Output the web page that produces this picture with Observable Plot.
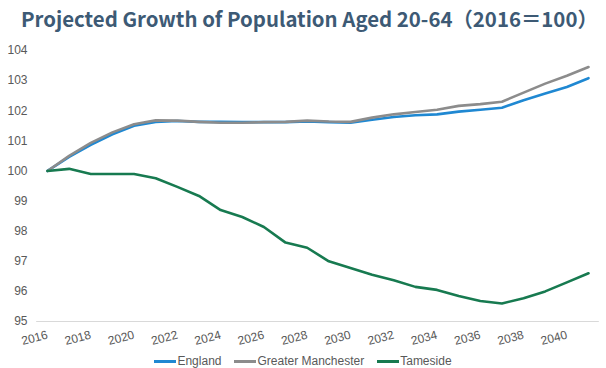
<!DOCTYPE html>
<html>
<head>
<meta charset="utf-8">
<script src="https://cdn.jsdelivr.net/npm/d3@7"></script>
<script src="https://cdn.jsdelivr.net/npm/@observablehq/plot@0.6"></script>
<style>
  html, body { margin: 0; padding: 0; background: #fff; }
  #wrap { width: 606px; height: 368px; overflow: hidden; position: relative; }
  #title { font-family: "Noto Sans CJK JP", "Noto Sans", sans-serif; font-weight: 700; font-size: 20.4px;
           color: #3d5a75; height: 36px; line-height: 36px; padding-left: 21px; white-space: nowrap; }
  #legend { font-family: "Liberation Sans", Arial, sans-serif; font-size: 12px; color: #595959;
            display: flex; justify-content: center; gap: 13px; height: 13px; line-height: 13px;
            margin-top: 1px; }
  .item { display: flex; align-items: center; }
  .sw { display: inline-block; width: 22px; height: 3px; margin-right: 1px; }
</style>
</head>
<body>
<div id="wrap">
  <div id="title">Projected Growth of Population Aged 20-64（2016＝100）</div>
  <div id="chart"></div>
  <div id="legend"></div>
</div>
<script>
const years = d3.range(2016, 2042);
const seriesNames = ["England", "Greater Manchester", "Tameside"];
const seriesColors = ["#1f88d2", "#8c8c8c", "#177a50"];
const england = [100, 100.47, 100.87, 101.22, 101.5, 101.63, 101.66, 101.63, 101.63, 101.62, 101.62, 101.62, 101.64, 101.62, 101.6, 101.7, 101.79, 101.85, 101.88, 101.97, 102.03, 102.1, 102.35, 102.57, 102.79, 103.08];
const greaterManchester = [100, 100.5, 100.93, 101.28, 101.55, 101.68, 101.67, 101.63, 101.6, 101.6, 101.62, 101.63, 101.67, 101.64, 101.63, 101.77, 101.88, 101.96, 102.03, 102.16, 102.22, 102.3, 102.6, 102.9, 103.16, 103.45];
const tameside = [100, 100.07, 99.9, 99.9, 99.9, 99.76, 99.47, 99.17, 98.7, 98.47, 98.14, 97.62, 97.45, 97.0, 96.78, 96.55, 96.37, 96.15, 96.05, 95.85, 95.68, 95.6, 95.77, 96.0, 96.3, 96.6];
const yTicks = [95, 96, 97, 98, 99, 100, 101, 102, 103, 104];
const xTicks = d3.range(2016, 2041, 2);

const valuesBySeries = [england, greaterManchester, tameside];
const rows = seriesNames.flatMap((s, i) => years.map((yr, j) => ({series: s, year: yr, value: valuesBySeries[i][j]})));

const chart = Plot.plot({
  width: 606,
  height: 318,
  marginLeft: 47,
  marginRight: 18,
  marginTop: 14,
  marginBottom: 33,
  style: {fontFamily: "Liberation Sans, Arial, sans-serif", fontSize: "12px", color: "#595959", background: "#fff"},
  x: {domain: [2016, 2041]},
  y: {domain: [95, 104]},
  color: {domain: seriesNames, range: seriesColors},
  marks: [
    Plot.ruleY([95], {x1: 2015.5, x2: 2041.5, stroke: "#d9d9d9", strokeWidth: 1}),
    Plot.axisY({ticks: yTicks, tickSize: 0, tickPadding: 20, label: null, fill: "#595959"}),
    Plot.axisX({ticks: xTicks, tickFormat: d => String(d), tickSize: 0, tickPadding: 13, tickRotate: -15, label: null, fill: "#595959", fontSize: 12}),
    Plot.lineY(rows, {x: "year", y: "value", z: "series", stroke: "series", strokeWidth: 2.6, curve: "linear"})
  ]
});
document.getElementById("chart").appendChild(chart);

const legend = document.getElementById("legend");
seriesNames.forEach((s, i) => {
  const it = document.createElement("span");
  it.className = "item";
  it.innerHTML = `<span class="sw" style="background:${seriesColors[i]}"></span>${s}`;
  legend.appendChild(it);
});
</script>
</body>
</html>
